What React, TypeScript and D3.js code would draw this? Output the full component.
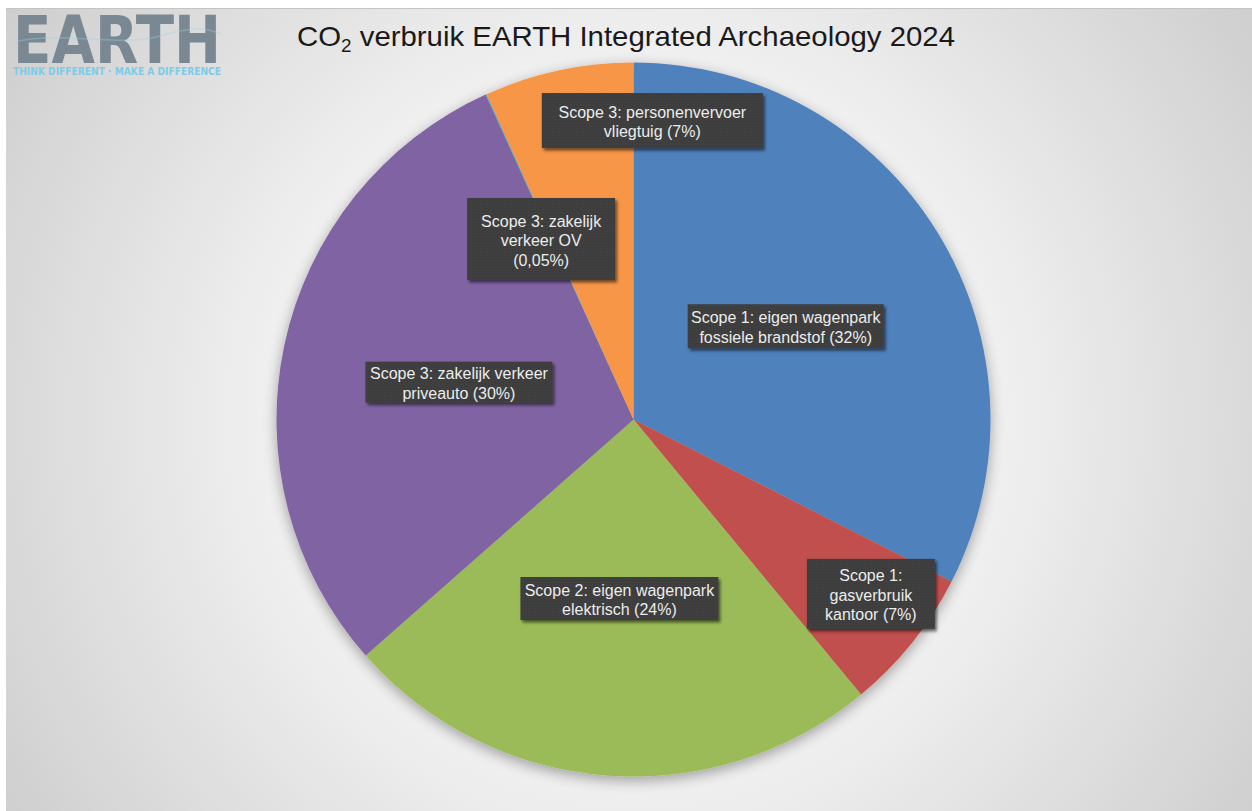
import React from 'react';
import * as d3 from 'd3';

// ---- data ----
const categories = [
  'Scope 1: eigen wagenpark fossiele brandstof',
  'Scope 1: gasverbruik kantoor',
  'Scope 2: eigen wagenpark elektrisch',
  'Scope 3: zakelijk verkeer priveauto',
  'Scope 3: zakelijk verkeer OV',
  'Scope 3: personenvervoer vliegtuig',
];
const values = [32.5, 6.5, 24.5, 29.7, 0.05, 6.75];
const labelLines = [
  ['Scope 1: eigen wagenpark', 'fossiele brandstof (32%)'],
  ['Scope 1:', 'gasverbruik', 'kantoor (7%)'],
  ['Scope 2: eigen wagenpark', 'elektrisch (24%)'],
  ['Scope 3: zakelijk verkeer', 'priveauto (30%)'],
  ['Scope 3: zakelijk', 'verkeer OV', '(0,05%)'],
  ['Scope 3: personenvervoer', 'vliegtuig (7%)'],
];
const colors = ['#4F81BD', '#C0504D', '#9BBB59', '#8064A2', '#4BACC6', '#F79646'];
const titleMain = 'CO';
const titleSub = '2';
const titleRest = ' verbruik EARTH Integrated Archaeology 2024';
const logoText = 'EARTH';
const logoTagline = 'THINK DIFFERENT \u00B7 MAKE A DIFFERENCE';

// ---- layout ----
const W = 1252;
const H = 811;
const cx = 633.5;
const cy = 419.5;
const R = 357;
// label placement: radius fraction, optional angle override (degrees clockwise from top)
const labelPlace: { r: number; angle?: number }[] = [
  { r: 0.5 },
  { r: 0.825, angle: 126.3 },
  { r: 0.503 },
  { r: 0.5 },
  { r: 0.568, angle: 332.9 },
  { r: 0.839, angle: 3.6 },
];
const labelBox: [number, number][] = [
  [196, 44],
  [128, 70],
  [198, 43],
  [187, 41],
  [148, 82],
  [221, 55],
];

export default function App() {
  const pie = d3
    .pie<number>()
    .sort(null)
    .value((d) => d)
    .startAngle(0)
    .endAngle(2 * Math.PI);
  const arcs = pie(values);
  const arc = d3.arc<d3.PieArcDatum<number>>().innerRadius(0).outerRadius(R);
  const rScale = d3.scaleLinear().domain([0, 1]).range([0, R]);
  const lh = 19.5;

  return (
    <svg
      width={W}
      height={H}
      viewBox={`0 0 ${W} ${H}`}
      style={{ position: 'absolute', left: 0, top: 0 }}
    >
      <defs>
        <radialGradient id="bg" cx={cx} cy={cy} r={760} gradientUnits="userSpaceOnUse">
          <stop offset="0" stopColor="#ffffff" />
          <stop offset="0.45" stopColor="#f2f2f2" />
          <stop offset="1" stopColor="#cdcdcd" />
        </radialGradient>
        <filter id="pieShadow" x="-20%" y="-20%" width="140%" height="140%">
          <feDropShadow dx="0" dy="4" stdDeviation="7" floodColor="#000" floodOpacity="0.35" />
        </filter>
        <filter id="boxShadow" x="-20%" y="-20%" width="140%" height="150%">
          <feDropShadow dx="2" dy="2.5" stdDeviation="1.6" floodColor="#000" floodOpacity="0.55" />
        </filter>
        <pattern id="dots" width="3" height="3" patternUnits="userSpaceOnUse">
          <rect width="3" height="3" fill="#3b3b3b" />
          <rect width="1" height="1" fill="#4d4d4d" />
          <rect x="1.5" y="1.5" width="1" height="1" fill="#454545" />
        </pattern>
      </defs>
      <rect x={0} y={0} width={W} height={H} fill="#ffffff" />
      <rect x={6} y={8} width={W - 6} height={H - 8} fill="url(#bg)" />
      <line x1={6} x2={W} y1={8.5} y2={8.5} stroke="#c4c4c4" strokeWidth={1} />

      {/* logo */}
      <g>
        <text
          x={13}
          y={63}
          fontFamily="'DejaVu Sans', sans-serif"
          fontWeight={900}
          fontSize={66}
          fill="#7a8893"
          textLength={208}
          lengthAdjust="spacingAndGlyphs"
        >
          {logoText}
        </text>
        <path
          d="M 14 42 C 60 30, 120 48, 160 36 S 210 30, 222 34"
          fill="none"
          stroke="#9fd3e8"
          strokeOpacity={0.35}
          strokeWidth={1.5}
        />
        <text
          x={13}
          y={74.5}
          fontFamily="'DejaVu Sans Condensed', 'DejaVu Sans', sans-serif"
          fontWeight={700}
          fontSize={10}
          fill="#7ecbe7"
          textLength={208}
          lengthAdjust="spacingAndGlyphs"
        >
          {logoTagline}
        </text>
      </g>

      {/* title */}
      <text
        x={297}
        y={46}
        fontFamily="'Liberation Sans', Arial, sans-serif"
        fontSize={28}
        fill="#1a1a1a"
        textLength={658}
        lengthAdjust="spacingAndGlyphs"
      >
        {titleMain}
        <tspan fontSize={18} dy={6}>
          {titleSub}
        </tspan>
        <tspan dy={-6}>{titleRest}</tspan>
      </text>

      {/* pie */}
      <g transform={`translate(${cx},${cy})`}>
        <g filter="url(#pieShadow)">
          {arcs.map((a, i) => (
            <path key={categories[i]} d={arc(a) || ''} fill={colors[i]} />
          ))}
        </g>
        {arcs.map((a, i) => {
          const place = labelPlace[i];
          const ang =
            place.angle !== undefined ? (place.angle * Math.PI) / 180 : (a.startAngle + a.endAngle) / 2;
          const rr = rScale(place.r);
          const lx = rr * Math.sin(ang);
          const ly = -rr * Math.cos(ang);
          const [bw, bh] = labelBox[i];
          const lines = labelLines[i];
          const n = lines.length;
          return (
            <g key={'lbl' + i}>
              <rect
                x={lx - bw / 2}
                y={ly - bh / 2}
                width={bw}
                height={bh}
                fill="url(#dots)"
                filter="url(#boxShadow)"
              />
              <text
                fontFamily="'Liberation Sans', Arial, sans-serif"
                fontSize={16}
                fill="#ececec"
                textAnchor="middle"
              >
                {lines.map((ln, j) => (
                  <tspan key={j} x={lx} y={ly - ((n - 1) * lh) / 2 + j * lh + 7}>
                    {ln}
                  </tspan>
                ))}
              </text>
            </g>
          );
        })}
      </g>
    </svg>
  );
}
